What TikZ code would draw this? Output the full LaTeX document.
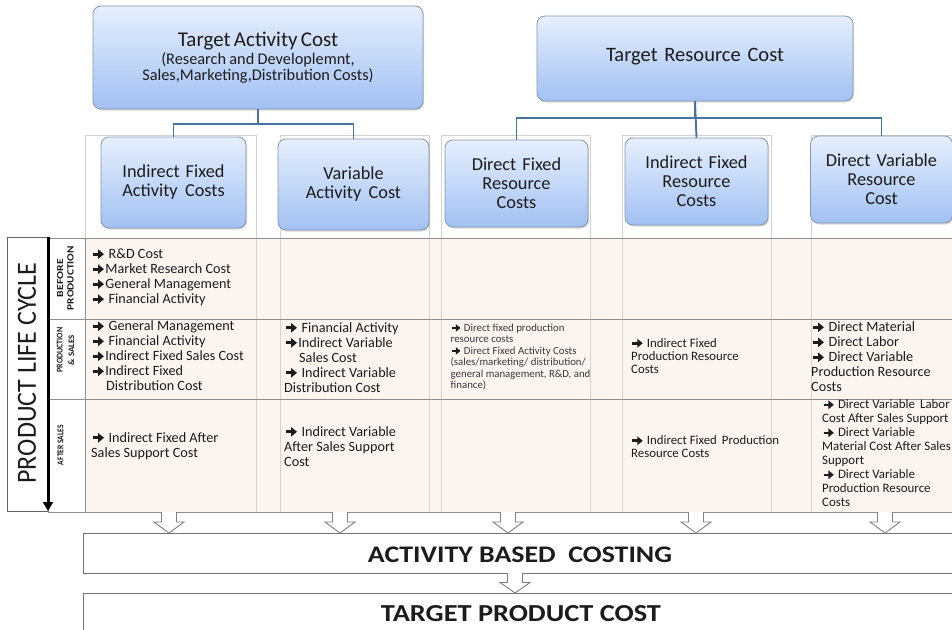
\documentclass[tikz,border=0pt]{standalone}
\usepackage{graphicx}
\usepackage{fontspec}
\setmainfont{Carlito}
\usetikzlibrary{shadows,arrows.meta}

\definecolor{hdrtop}{HTML}{E6EFFD}
\definecolor{hdrbot}{HTML}{A2C1F3}
\definecolor{hdrline}{HTML}{8796AE}
\definecolor{connblue}{HTML}{46739F}
\definecolor{peach}{HTML}{FCF4EF}
\definecolor{gridgray}{HTML}{8E8E8E}
\definecolor{framegray}{HTML}{D2D2D2}
\definecolor{txt}{HTML}{1C1C1C}
\definecolor{softtxt}{HTML}{3A3A3A}

% heavy bullet arrow used in the table cells
\newcommand\cellarr{\tikz[baseline={(0,-0.3em)}, x=1pt, y=1pt]
  \draw[txt, line width=0.2em, -{Triangle[length=0.42em,width=0.66em]}] (0,0) -- (0.8em,0);}
% stage label word with fixed width and cap height
\newcommand\stageword[3]{\resizebox{#1pt}{#2pt}{\bfseries #3}}

\begin{document}
\begin{tikzpicture}[x=1pt,y=-1pt,
  hdrbox/.style={draw=hdrline, line width=0.8pt, rounded corners=8pt,
    top color=hdrtop, bottom color=hdrbot, text=txt, align=center,
    inner sep=2pt,
    drop shadow={shadow xshift=1pt, shadow yshift=-1.5pt, opacity=0.3}},
  subbox/.style={hdrbox, text width=138pt, font=\fontsize{18.3}{19}\selectfont},
  conn/.style={draw=connblue, line width=1.9pt},
  celltxt/.style={anchor=north west, inner sep=0pt, align=left, text=txt,
    font=\fontsize{14.2}{15}\selectfont},
  stagetxt/.style={rotate=90, text=txt, align=center, inner sep=0pt},
  plainbox/.style={draw=gray!90!black, line width=0.9pt, fill=white},
  barrow/.style={draw=gray, line width=0.9pt, fill=white},
  dnarrow/.pic={\filldraw[barrow] (-7.5,0) -- (-7.5,10) -- (-15,10) -- (0,21)
     -- (15,10) -- (7.5,10) -- (7.5,0);}
]
\useasboundingbox (0,0) rectangle (952,629);
\clip (0,0) rectangle (952,629);

% cost table background and column frames
\fill[peach] (85,238) rectangle (960,512);
\foreach \l/\r in {85/256,280/429,441/590,622/771,811/965}
  \draw[framegray, line width=0.8pt] (\l,135) rectangle (\r,512);
\foreach \yy in {238,319,399,512}
  \draw[gridgray, line width=0.9pt] (48,\yy) -- (960,\yy);

% life-cycle stage labels
\draw[gridgray!70!black, line width=0.9pt] (7,237) rectangle (48,511);
\draw[gridgray, line width=0.9pt] (48,238) rectangle (85,512);
\node[rotate=90, text=txt] (plc) at (27,373)
  {\resizebox{221pt}{18pt}{PRODUCT LIFE CYCLE}};
\draw[line width=3pt, -{Triangle[length=9pt,width=10pt]}] (48,237) -- (48,511);
\node[stagetxt, font=\fontsize{8}{10.5}\selectfont] (stage1) at (65.5,278)
  {\stageword{38}{6}{BEFORE}\\\stageword{64}{6.3}{PRODUCTION}};
\node[stagetxt, font=\fontsize{8}{11.5}\selectfont] (stage2) at (65.5,350)
  {\stageword{45}{5.8}{PRODUCTION}\\\stageword{30}{5.8}{\& SALES}};
\node[stagetxt, font=\fontsize{8}{10}\selectfont] (stage3) at (60.5,445)
  {\stageword{40}{5.8}{AFTER SALES}};

% top-level targets
\node[hdrbox, minimum width=330pt, minimum height=103pt, text width=320pt] (tac) at (258,57.5)
  {\fontsize{21}{22}\selectfont Target Activity Cost\\[2pt]
   \fontsize{16.3}{16.5}\selectfont (Research and Developlemnt,\\Sales,Marketing,Distribution Costs)};
\node[hdrbox, minimum width=316pt, minimum height=85pt, text width=300pt,
  font=\fontsize{20.5}{22}\selectfont] (trc) at (695,58.5) {\raisebox{7pt}{Target Resource Cost}};

% cost categories
\node[subbox, minimum width=145pt, minimum height=91pt] (c1) at (173.5,182.5)
  {Indirect Fixed\\Activity\hspace{0.4em}Costs};
\node[subbox, minimum width=151pt, minimum height=91pt] (c2) at (353.5,184.5)
  {Variable\\Activity\hspace{0.4em}Cost};
\node[subbox, minimum width=143pt, minimum height=87pt] (c3) at (516.5,183.5)
  {Direct Fixed\\Resource\\Costs};
\node[subbox, minimum width=143pt, minimum height=87pt] (c4) at (696.5,181.5)
  {Indirect Fixed\\Resource\\Costs};
\node[subbox, minimum width=141pt, minimum height=87pt] (c5) at (881.5,179.5)
  {Direct Variable\\Resource\\Cost};

% tree connectors
\draw[conn] (tac.south) -- ++(0,15) -| (c1.north);
\draw[conn] (tac.south) -- ++(0,15) -| (c2.north);
\draw[conn] (trc.south) -- ++(0,17) -| (c3.north);
\draw[conn] (trc.south) -- (c4.north);
\draw[conn] (trc.south) -- ++(0,17) -| (c5.north);

% table cells
\node[celltxt] (t11) at (91,248.5)
  {\cellarr\ R\&D Cost\\\cellarr Market Research Cost\\\cellarr General Management\\\cellarr\ Financial Activity};
\node[celltxt] (t12) at (91,320.5)
  {\cellarr\ General Management\\\cellarr\ Financial Activity\\\cellarr Indirect Fixed Sales Cost\\\cellarr Indirect Fixed\\\hspace*{15pt}Distribution Cost};
\node[celltxt] (t13) at (91,432)
  {\cellarr\ Indirect Fixed After\\Sales Support Cost};
\node[celltxt] (t22) at (284,322)
  {\cellarr\ Financial Activity\\\cellarr Indirect Variable\\\hspace*{15pt}Sales Cost\\\cellarr\ Indirect Variable\\Distribution Cost};
\node[celltxt] (t23) at (284,426)
  {\cellarr\ Indirect Variable\\After Sales Support\\Cost};
\node[celltxt, text=softtxt, font=\fontsize{10.8}{11.5}\selectfont] (t32) at (450.5,323.5)
  {\cellarr\ Direct fixed production\\resource costs\\\cellarr\ Direct Fixed Activity Costs\\(sales/marketing/ distribution/\\general management, R\&D, and\\finance)};
\node[celltxt, font=\fontsize{12.8}{13.4}\selectfont] (t42) at (631,338)
  {\cellarr\ Indirect Fixed\\Production Resource\\Costs};
\node[celltxt, font=\fontsize{12.8}{13.4}\selectfont] (t43) at (631,435.5)
  {\cellarr\ Indirect Fixed\hspace{0.4em}Production\\Resource Costs};
\node[celltxt] (t52) at (811,321.5)
  {\cellarr\ Direct Material\\\cellarr\ Direct Labor\\\cellarr\ Direct Variable\\Production Resource\\Costs};
\node[celltxt, font=\fontsize{12.9}{14}\selectfont] (t53) at (822,399.5)
  {\cellarr\ Direct Variable\hspace{0.4em}Labor\\Cost After Sales Support\\\cellarr\ Direct Variable\\Material Cost After Sales\\Support\\\cellarr\ Direct Variable\\Production Resource\\Costs};

% costing stages
\node[plainbox, minimum width=880pt, minimum height=40pt, anchor=north west] (abc) at (83,533) {};
\node[text=txt] (abct) at (520,554.5) {\resizebox{304pt}{15.6pt}{\bfseries ACTIVITY BASED\ \ COSTING}};
\node[plainbox, minimum width=880pt, minimum height=50pt, anchor=north west] (tpc) at (83,593) {};
\node[text=txt] (tpct) at (521,613.5) {\resizebox{280pt}{16pt}{\bfseries TARGET PRODUCT COST}};

% flow arrows
\foreach \xx [count=\i] in {169,340,508,696,885}
  \coordinate (fa\i) at (\xx,512);
\foreach \i in {1,...,5}
  \pic at (fa\i) {dnarrow};
\coordinate (fm) at (515,573);
\pic[yscale=0.95] at (fm) {dnarrow};
\end{tikzpicture}
\end{document}
